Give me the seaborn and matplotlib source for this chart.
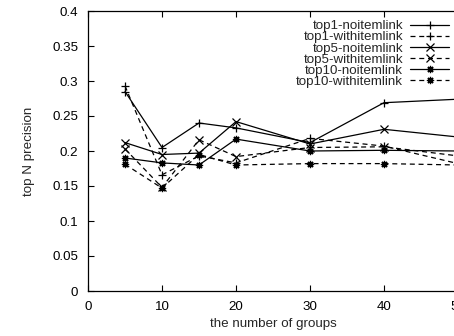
import matplotlib
matplotlib.use("Agg")
import matplotlib.pyplot as plt
import seaborn as sns
import pandas as pd

# ---- data ----
groups = [5, 10, 15, 20, 30, 40, 50]
series_names = [
    "top1-noitemlink", "top1-withitemlink",
    "top5-noitemlink", "top5-withitemlink",
    "top10-noitemlink", "top10-withitemlink",
]
top1_noitemlink = [0.285, 0.205, 0.240, 0.233, 0.212, 0.269, 0.274]
top1_withitemlink = [0.293, 0.166, 0.193, 0.183, 0.218, 0.207, 0.182]
top5_noitemlink = [0.212, 0.195, 0.197, 0.242, 0.210, 0.231, 0.220]
top5_withitemlink = [0.203, 0.148, 0.216, 0.192, 0.205, 0.206, 0.193]
top10_noitemlink = [0.190, 0.183, 0.180, 0.217, 0.200, 0.201, 0.200]
top10_withitemlink = [0.181, 0.147, 0.195, 0.180, 0.182, 0.182, 0.180]
values = [top1_noitemlink, top1_withitemlink, top5_noitemlink,
          top5_withitemlink, top10_noitemlink, top10_withitemlink]

yticks = [0, 0.05, 0.1, 0.15, 0.2, 0.25, 0.3, 0.35, 0.4]
ytick_labels = ["0", "0.05", "0.1", "0.15", "0.2", "0.25", "0.3", "0.35", "0.4"]
xticks = [0, 10, 20, 30, 40, 50]
xtick_labels = ["0", "10", "20", "30", "40", "50"]

df = pd.DataFrame({
    "groups": groups * len(series_names),
    "precision": [v for vals in values for v in vals],
    "series": [n for n in series_names for _ in groups],
})

# ---- style ----
sns.set_style("ticks")
plt.rcParams["font.family"] = ["Liberation Sans", "DejaVu Sans"]
plt.rcParams["font.size"] = 9.6

asterisk = (8, 2, 0)
markers = ["+", "+", "x", "x", asterisk, asterisk]
solid = "-"
dashed = (0, (4, 3))
styles = [solid, dashed, solid, dashed, solid, dashed]

fig = plt.figure(figsize=(4.54, 3.36), dpi=100)
ax = fig.add_axes([88 / 454, 1 - 291 / 336, 370 / 454, 280 / 336])

for name, mk, ls in zip(series_names, markers, styles):
    sub = df[df["series"] == name]
    sns.lineplot(data=sub, x="groups", y="precision", ax=ax, color="black",
                 marker=mk, markersize=5.2, markeredgewidth=0.9,
                 markeredgecolor="black", markerfacecolor="black",
                 linestyle=ls, linewidth=0.9, label=name, legend=False)

ax.set_xlim(0, 50)
ax.set_ylim(0, 0.4)
ax.set_xticks(xticks)
ax.set_xticklabels(xtick_labels)
ax.set_yticks(yticks)
ax.set_yticklabels(ytick_labels)
ax.tick_params(direction="in", length=4, width=0.8, top=True, right=False,
               labelsize=9.6, colors="black", pad=7)
for s in ax.spines.values():
    s.set_visible(True)
    s.set_linewidth(0.9)
    s.set_color("black")

ax.set_xlabel("the number of groups", fontsize=9.6, labelpad=4)
ax.set_ylabel("top N precision", fontsize=9.6, labelpad=12)

handles = ax.get_lines()[:len(series_names)]
leg = ax.legend(handles, series_names, markerfirst=False, frameon=False,
                loc="upper right", bbox_to_anchor=(449 / 454, 1 - 20 / 336),
                bbox_transform=fig.transFigure, borderpad=0, borderaxespad=0,
                handlelength=2.9, handletextpad=0.55, labelspacing=-0.09,
                fontsize=9.6)

fig.savefig("out.png", dpi=100)
